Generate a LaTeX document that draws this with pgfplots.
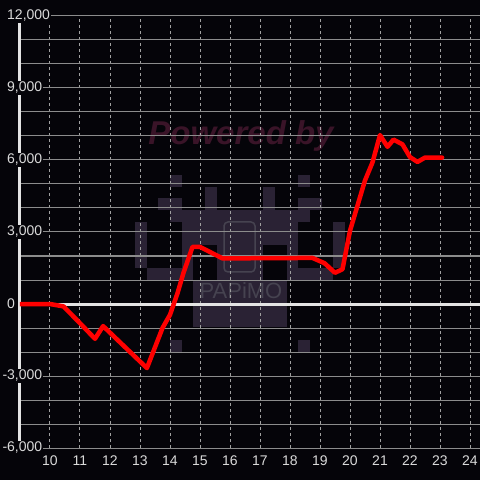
\documentclass[border=0pt]{standalone}
\usepackage{fontspec}
\setmainfont{Liberation Sans}
\usepackage{pgfplots}
\pgfplotsset{compat=1.18}

\definecolor{bg}{RGB}{5,4,9}
\definecolor{lbl}{RGB}{218,218,218}
\definecolor{hgrid}{RGB}{140,140,140}
\definecolor{vgrid}{RGB}{160,160,160}
\definecolor{axline}{RGB}{228,228,228}
\definecolor{wm}{RGB}{42,34,52}
\definecolor{pwr}{RGB}{58,20,40}
\definecolor{papimo}{RGB}{70,67,80}

\begin{document}
\begin{tikzpicture}
\useasboundingbox (-20pt,-32pt) rectangle (460pt,448pt);
\fill[bg] (-20pt,-32pt) rectangle (460pt,448pt);

% watermark, in pixel coordinates of the 480x480 image
\begin{scope}[shift={(-20pt,448pt)}, x=1pt, y=-1pt]
  \fill[wm] (170,175) rectangle (182,187);
  \fill[wm] (298,175) rectangle (310,187);
  \fill[wm] (158,198) rectangle (182,210);
  \fill[wm] (298,198) rectangle (322,210);
  \fill[wm] (205,187) rectangle (217,210);
  \fill[wm] (263,187) rectangle (275,210);
  \fill[wm] (170,210) rectangle (310,222);
  \fill[wm] (135,222) rectangle (147,268);
  \fill[wm] (333,222) rectangle (345,268);
  \fill[wm] (182,222) rectangle (298,268);
  \fill[wm] (147,268) rectangle (333,280);
  \fill[wm] (193,280) rectangle (287,327);
  \fill[bg] (193,245) rectangle (217,280);
  \fill[bg] (263,245) rectangle (287,280);
  \fill[wm] (170,340) rectangle (182,352);
  \fill[wm] (298,340) rectangle (310,352);
  \draw[papimo, line width=1.5pt, rounded corners=4pt] (224,222) rectangle (255,272);
  \node[font=\fontsize{22}{22}\selectfont, text=papimo] at (241,291) {PAPiMO};
  \node[font=\fontsize{33}{33}\selectfont\bfseries\itshape, text=pwr, anchor=base] at (241,145) {Powered by};
\end{scope}

\begin{axis}[
    at={(0,0)}, anchor=south west,
    scale only axis,
    width=460pt, height=432pt,
    xmin=9, xmax=24.3333,
    ymin=-6000, ymax=12000,
    enlargelimits=false,
    axis x line=bottom,
    axis y line=left,
    axis line style={-},
    x axis line style={draw=none},
    y axis line style={draw=axline, line width=3pt},
    xtick={10,...,24},
    ytick={-6000,-3000,...,12000},
    scaled y ticks=false,
    yticklabels={{\llap{-}6,000},{\llap{-}3,000},0,{3,000},{6,000},{9,000},{12,000}},
    minor x tick num=0,
    minor y tick num=2,
    major tick length=0pt,
    minor tick length=0pt,
    xmajorgrids, ymajorgrids, yminorgrids,
    major x grid style={draw=vgrid, line width=1pt, dash pattern=on 3pt off 3pt},
    major y grid style={draw=hgrid, line width=1pt},
    minor y grid style={draw=hgrid, line width=1pt},
    tick label style={font=\fontsize{14}{16}\selectfont, text=lbl},
    /pgf/number format/assume math mode=true,
    xticklabel style={inner sep=1pt, yshift=-7pt},
    yticklabel style={anchor=west, inner sep=1pt, xshift=-14pt, fill=bg},
]
\draw[axline, line width=3pt] (axis cs:9,0) -- (axis cs:24.3333,0);

\addplot[red, line width=4.5pt, line join=round, line cap=round] coordinates {
  (9,0) (10,0) (10.45,-100) (11,-800) (11.5,-1450) (11.77,-920)
  (13.23,-2670) (13.75,-1000) (14,-450) (14.25,450) (14.45,1300)
  (14.75,2380) (15,2380) (15.75,1900) (18.75,1920) (19.15,1700)
  (19.5,1300) (19.75,1450) (20,3050) (20.5,5150) (20.75,5900)
  (21,7040) (21.25,6550) (21.45,6850) (21.75,6650) (22,6120)
  (22.25,5920) (22.5,6100) (23.07,6100)
};
\end{axis}
\end{tikzpicture}
\end{document}
